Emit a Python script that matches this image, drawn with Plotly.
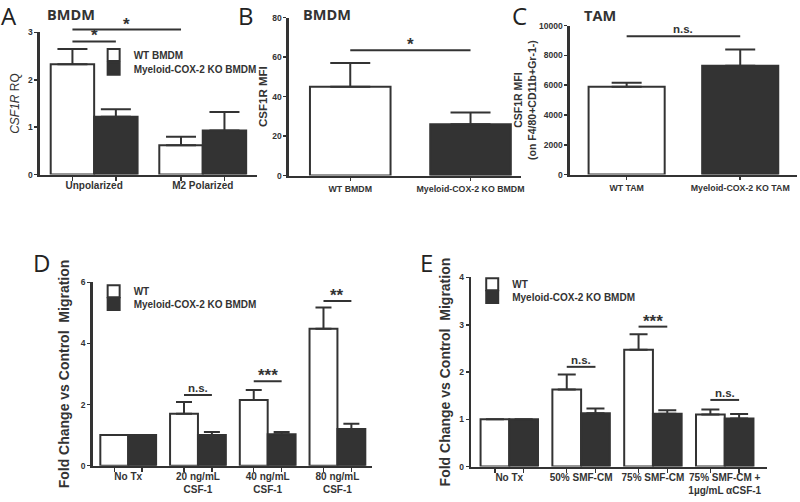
import plotly.graph_objects as go

# ---------------- DATA ----------------
# Panel A
a_cats = ["Unpolarized", "M2 Polarized"]
a_wt = [2.33, 0.62]
a_wt_err = [0.32, 0.18]
a_ko = [1.22, 0.93]
a_ko_err = [0.16, 0.39]
a_legend = ["WT BMDM", "Myeloid-COX-2 KO BMDM"]

# Panel B
b_cats = ["WT BMDM", "Myeloid-COX-2 KO BMDM"]
b_vals = [45, 26]
b_err = [12, 6]

# Panel C
c_cats = ["WT TAM", "Myeloid-COX-2 KO TAM"]
c_vals = [5900, 7300]
c_err = [270, 1100]

# Panel D
d_cats = ["No Tx", "20 ng/mL<br>CSF-1", "40 ng/mL<br>CSF-1", "80 ng/mL<br>CSF-1"]
d_wt = [1.0, 1.70, 2.15, 4.48]
d_wt_err = [0.0, 0.38, 0.33, 0.70]
d_ko = [1.0, 1.0, 1.03, 1.20]
d_ko_err = [0.0, 0.10, 0.07, 0.17]
d_legend = ["WT", "Myeloid-COX-2 KO BMDM"]

# Panel E
e_cats = ["No Tx", "50% SMF-CM", "75% SMF-CM", "75% SMF-CM +<br>1µg/mL αCSF-1"]
e_wt = [1.0, 1.63, 2.47, 1.10]
e_wt_err = [0.0, 0.32, 0.33, 0.11]
e_ko = [1.0, 1.13, 1.12, 1.02]
e_ko_err = [0.0, 0.10, 0.07, 0.09]
e_legend = ["WT", "Myeloid-COX-2 KO BMDM"]

# significance brackets: (x from, x to, y level, label)
a_sig = [(-0.2, 0.2, 2.81, "*"), (-0.2, 0.8, 3.06, "*")]
b_sig = [(0, 1, 63.5, "*")]
c_sig = [(0, 1, 9280, "n.s.")]
d_sig = [(0.8, 1.2, 2.31, "n.s."), (1.8, 2.2, 2.76, "***"), (2.8, 3.2, 5.39, "**")]
e_sig = [(0.8, 1.2, 2.11, "n.s."), (1.8, 2.2, 2.96, "***"), (2.8, 3.2, 1.41, "n.s.")]

# ---------------- STYLE ----------------
W, H = 800, 502
DARK = "#333333"
FONT = "Liberation Sans, Arial, sans-serif"

def px2x(px):
    return px / W

def px2y(py):
    return 1 - py / H

panels = {
    "A": dict(xd=[px2x(40), px2x(258)], yd=[px2y(173), px2y(28)], xr=[-0.5, 1.5], yr=[0, 3], dt=1),
    "B": dict(xd=[px2x(290), px2x(523)], yd=[px2y(174), px2y(13)], xr=[-0.51, 1.42], yr=[0, 80], dt=20),
    "C": dict(xd=[px2x(572), px2x(800)], yd=[px2y(173), px2y(21)], xr=[-0.5, 1.5], yr=[0, 10000], dt=2000),
    "D": dict(xd=[px2x(93), px2x(373)], yd=[px2y(470), px2y(283)], xr=[-0.51, 3.49], yr=[0, 6], dt=2),
    "E": dict(xd=[px2x(473), px2x(770)], yd=[px2y(471), px2y(278)], xr=[-0.53, 3.59], yr=[0, 4], dt=1),
}
axis_ids = {"A": "", "B": "2", "C": "3", "D": "4", "E": "5"}

fig = go.Figure()

def bar(xs, ys, errs, fill, name, ax, width, showlegend, legend, cap):
    fig.add_trace(go.Bar(
        x=xs, y=ys, width=width, name=name,
        marker=dict(color=fill, line=dict(color=DARK, width=2)),
        error_y=dict(type="data", array=errs, arrayminus=[0] * len(errs), symmetric=False,
                     color=DARK, thickness=2, width=cap),
        xaxis="x" + ax, yaxis="y" + ax,
        showlegend=showlegend, legend=legend, hoverinfo="skip",
    ))

# Panel A
n = len(a_cats)
bar([i - 0.2 for i in range(n)], a_wt, a_wt_err, "white", a_legend[0], "", 0.4, True, "legend", 15)
bar([i + 0.2 for i in range(n)], a_ko, a_ko_err, DARK, a_legend[1], "", 0.4, True, "legend2", 15)
# Panel B
bar([0], [b_vals[0]], [b_err[0]], "white", b_cats[0], "2", 0.67, False, "legend", 20)
bar([1], [b_vals[1]], [b_err[1]], DARK, b_cats[1], "2", 0.67, False, "legend", 20)
# Panel C
bar([0], [c_vals[0]], [c_err[0]], "white", c_cats[0], "3", 0.67, False, "legend", 15)
bar([1], [c_vals[1]], [c_err[1]], DARK, c_cats[1], "3", 0.67, False, "legend", 15)
# Panel D
n = len(d_cats)
bar([i - 0.2 for i in range(n)], d_wt, d_wt_err, "white", d_legend[0], "4", 0.4, True, "legend3", 8)
bar([i + 0.2 for i in range(n)], d_ko, d_ko_err, DARK, d_legend[1], "4", 0.4, True, "legend4", 8)
# Panel E
n = len(e_cats)
bar([i - 0.2 for i in range(n)], e_wt, e_wt_err, "white", e_legend[0], "5", 0.4, True, "legend5", 9)
bar([i + 0.2 for i in range(n)], e_ko, e_ko_err, DARK, e_legend[1], "5", 0.4, True, "legend6", 9)

tickfont = dict(family=FONT, size=8.5, color=DARK, weight="bold")
catfonts = {
    "A": dict(family=FONT, size=10, color=DARK, weight="bold"),
    "B": dict(family=FONT, size=8.8, color=DARK, weight="bold"),
    "C": dict(family=FONT, size=8.8, color=DARK, weight="bold"),
    "D": dict(family=FONT, size=10, color=DARK, weight="bold"),
    "E": dict(family=FONT, size=10, color=DARK, weight="bold"),
}

layout = dict(
    width=W, height=H, margin=dict(l=0, r=0, t=0, b=0),
    plot_bgcolor="white", paper_bgcolor="white",
    barmode="overlay", showlegend=True,
    font=dict(family=FONT, color=DARK),
)

cat_lists = {"A": a_cats, "B": b_cats, "C": c_cats, "D": d_cats, "E": e_cats}
minor_vals = {
    "A": [v for i in range(len(a_cats)) for v in (i - 0.2, i + 0.2)],
    "D": [v for i in range(len(d_cats)) for v in (i - 0.2, i + 0.2)],
    "E": [v for i in range(len(e_cats)) for v in (i - 0.2, i + 0.2)],
}
ytitles = {
    "A": dict(text="<i>CSF1R</i> RQ", font=dict(size=12, family=FONT, color=DARK), standoff=6),
    "B": dict(text="<b>CSF1R MFI</b>", font=dict(size=11.5, family=FONT, color=DARK), standoff=2),
    "C": dict(text="<b>CSF1R MFI<br>(on F4/80+CD11b+Gr-1-)</b>", font=dict(size=10.5, family=FONT, color=DARK), standoff=1),
    "D": dict(text="<b>Fold Change vs Control  Migration</b>", font=dict(size=14, family=FONT, color=DARK), standoff=8),
    "E": dict(text="<b>Fold Change vs Control  Migration</b>", font=dict(size=14, family=FONT, color=DARK), standoff=6),
}

for k, p in panels.items():
    aid = axis_ids[k]
    cats = cat_lists[k]
    xa = dict(
        domain=p["xd"], range=p["xr"], anchor="y" + aid,
        showline=True, linecolor=DARK, linewidth=2.5,
        tickmode="array", tickvals=list(range(len(cats))), ticktext=cats,
        ticks="" if k in minor_vals else "outside", ticklen=3, tickwidth=1.5, tickcolor=DARK,
        tickfont=catfonts[k],
        showgrid=False, zeroline=False, fixedrange=True,
    )
    if k in minor_vals:
        xa["minor"] = dict(tickmode="array", tickvals=minor_vals[k], ticks="outside",
                           ticklen=4, tickwidth=1.5, tickcolor=DARK, showgrid=False)
    ya = dict(
        domain=p["yd"], range=p["yr"], anchor="x" + aid,
        showline=True, linecolor=DARK, linewidth=2.5,
        ticks="outside", ticklen=3, tickwidth=1.5, tickcolor=DARK, dtick=p["dt"],
        tickformat="d",
        tickfont=tickfont, showgrid=False, zeroline=False, fixedrange=True,
        title=ytitles[k],
    )
    layout["xaxis" + aid] = xa
    layout["yaxis" + aid] = ya

legfont = dict(family=FONT, size=10, color=DARK, weight="bold")
# one legend per entry so each entry can sit where the reference has it
leg_pos = {
    "legend": (94, 51), "legend2": (94, 65),
    "legend3": (94, 292), "legend4": (94, 305),
    "legend5": (474, 285), "legend6": (474, 298),
}
for lid, (lx, ly) in leg_pos.items():
    layout[lid] = dict(x=px2x(lx), y=px2y(ly), xanchor="left", yanchor="middle", font=legfont,
                       bgcolor="rgba(0,0,0,0)", tracegroupgap=0, itemwidth=30)

fig.update_layout(**layout)

# significance brackets
def to_paper(val, p):
    y0, y1 = p["yd"]
    r0, r1 = p["yr"]
    return y0 + (val - r0) / (r1 - r0) * (y1 - y0)

sig_sets = {"A": a_sig, "B": b_sig, "C": c_sig, "D": d_sig, "E": e_sig}
for k, sigs in sig_sets.items():
    aid = axis_ids[k]
    p = panels[k]
    for x0, x1, yv, lab in sigs:
        yp = to_paper(yv, p)
        fig.add_shape(type="line", xref="x" + aid, yref="paper", x0=x0, x1=x1, y0=yp, y1=yp,
                      line=dict(color=DARK, width=2))
        star = lab != "n.s."
        fig.add_annotation(xref="x" + aid, yref="paper", x=(x0 + x1) / 2, y=yp,
                           yanchor="bottom", yshift=-6 if star else -1, showarrow=False,
                           text=lab,
                           font=dict(family=FONT, size=17 if star else 11.5, color=DARK,
                                     weight="bold"))

# titles and panel letters
titles = [("BMDM", 71, 10), ("BMDM", 328, 10), ("TAM", 602, 11)]
for t, xp, yp in titles:
    fig.add_annotation(xref="paper", yref="paper", x=px2x(xp), y=px2y(yp), text="<b>%s</b>" % t,
                       showarrow=False, xanchor="center", yanchor="middle",
                       font=dict(family="Open Sans, Liberation Sans, sans-serif", size=14.5, color=DARK))
letters = [("A", 9, 11), ("B", 247, 11), ("C", 521, 11), ("D", 42, 263), ("E", 428, 263)]
for t, xp, yp in letters:
    fig.add_annotation(xref="paper", yref="paper", x=px2x(xp), y=px2y(yp), text=t,
                       showarrow=False, xanchor="center", yanchor="middle",
                       font=dict(family="Open Sans, Liberation Sans, sans-serif", size=24, color="#222222"))

fig.write_html("out.html", config={"displayModeBar": False, "staticPlot": True},
               post_script="document.body.style.margin='0';document.body.style.overflow='hidden';")
